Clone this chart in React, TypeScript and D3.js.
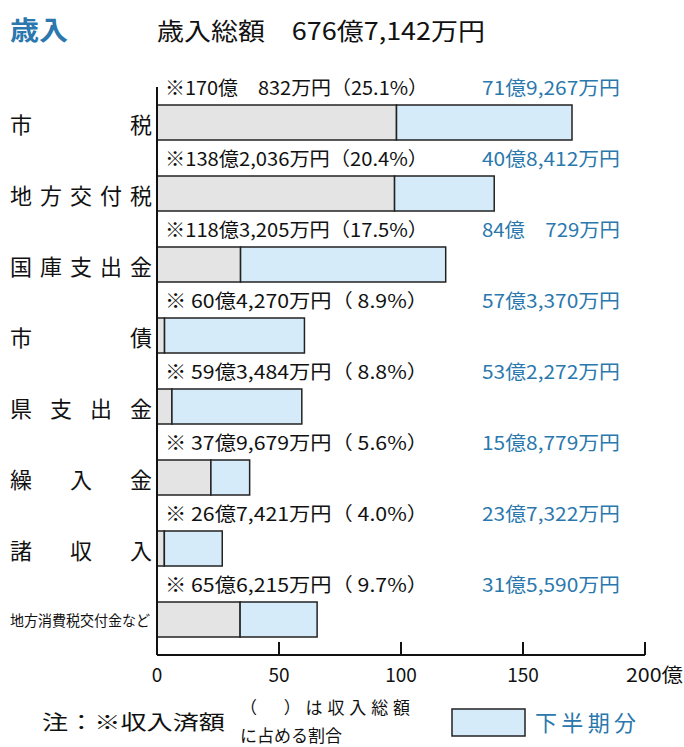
import React from 'react';
import * as d3 from 'd3';

// 歳入 data (億円)
const categories = ['市税', '地方交付税', '国庫支出金', '市債', '県支出金', '繰入金', '諸収入', '地方消費税交付金など'];
const totals = [170.0832, 138.2036, 118.3205, 60.4270, 59.3484, 37.9679, 26.7421, 65.6215];
const lowerHalf = [71.9267, 40.8412, 84.0729, 57.3370, 53.2272, 15.8779, 23.7322, 31.5590];
const totalLabels = [
  '※170億　832万円（25.1%）',
  '※138億2,036万円（20.4%）',
  '※118億3,205万円（17.5%）',
  '※ 60億4,270万円（ 8.9%）',
  '※ 59億3,484万円（ 8.8%）',
  '※ 37億9,679万円（ 5.6%）',
  '※ 26億7,421万円（ 4.0%）',
  '※ 65億6,215万円（ 9.7%）',
];
const lowerLabels = ['71億9,267万円', '40億8,412万円', '84億　729万円', '57億3,370万円', '53億2,272万円', '15億8,779万円', '23億7,322万円', '31億5,590万円'];
const xTicks = [0, 50, 100, 150, 200];

const FONT = '"Noto Sans CJK JP", "Noto Sans", sans-serif';
const BLUE = '#2a78ad';
const LIGHT = '#d5ebf9';
const GRAY = '#e4e4e4';

export default function App() {
  const x = d3.scaleLinear().domain([0, 200]).range([157, 645]);
  const y = d3.scaleBand<number>().domain(d3.range(categories.length)).range([87, 655]).paddingInner(0).paddingOuter(0);
  const barH = 35;

  return (
    <svg width={684} height={747} style={{ position: 'absolute', left: 0, top: 0, fontFamily: FONT }}>
      <rect width={684} height={747} fill="#fff" />
      <text x={10} y={40} fontSize={26} fontWeight="bold" fill={BLUE} textLength={58} lengthAdjust="spacingAndGlyphs">歳入</text>
      <text x={157} y={40} fontSize={24} fill="#111" textLength={328} lengthAdjust="spacingAndGlyphs">歳入総額　676億7,142万円</text>

      {categories.map((c, i) => {
        const top = (y(i) as number) + 18;
        const gray = totals[i] - lowerHalf[i];
        const long = c.length > 6;
        return (
          <g key={c}>
            <text x={165} y={top - 10} fontSize={19} fill="#111" textLength={263} lengthAdjust="spacingAndGlyphs">{totalLabels[i]}</text>
            <text x={620} y={top - 10} fontSize={19} fill={BLUE} textAnchor="end" textLength={138} lengthAdjust="spacingAndGlyphs">{lowerLabels[i]}</text>
            <rect x={x(0)} y={top} width={x(gray) - x(0)} height={barH} fill={GRAY} stroke="#222" strokeWidth={1.5} />
            <rect x={x(gray)} y={top} width={x(totals[i]) - x(gray)} height={barH} fill={LIGHT} stroke="#222" strokeWidth={1.5} />
            <text
              x={10}
              y={top + barH / 2}
              dominantBaseline="central"
              fontSize={long ? 15 : 22}
              fill="#111"
              textLength={long ? 140 : 142}
              lengthAdjust={long ? 'spacingAndGlyphs' : 'spacing'}
            >
              {c}
            </text>
          </g>
        );
      })}

      {/* axes */}
      <line x1={x(0)} x2={x(0)} y1={87} y2={655} stroke="#111" strokeWidth={2} />
      <line x1={x(0)} x2={x(200)} y1={655} y2={655} stroke="#111" strokeWidth={2} />
      {xTicks.map((t) => (
        <g key={t}>
          <line x1={x(t)} x2={x(t)} y1={642} y2={655} stroke="#111" strokeWidth={2} />
          {t === 200 ? (
            <text x={626} y={682} fontSize={19} fill="#111" textLength={57} lengthAdjust="spacingAndGlyphs">200億</text>
          ) : (
            <text x={x(t)} y={682} fontSize={19} fill="#111" textAnchor="middle">{t}</text>
          )}
        </g>
      ))}

      {/* legend */}
      <text x={42} y={730} fontSize={20} fill="#111" textLength={183} lengthAdjust="spacingAndGlyphs">注：※収入済額</text>
      <text x={240} y={714} fontSize={17} fill="#111" textLength={170} lengthAdjust="spacing">（　）は収入総額</text>
      <text x={240} y={742} fontSize={17} fill="#111">に占める割合</text>
      <rect x={452} y={709} width={73} height={27} fill={LIGHT} stroke="#222" strokeWidth={1.5} />
      <text x={535} y={731} fontSize={22} fill={BLUE} textLength={101} lengthAdjust="spacing">下半期分</text>
    </svg>
  );
}
